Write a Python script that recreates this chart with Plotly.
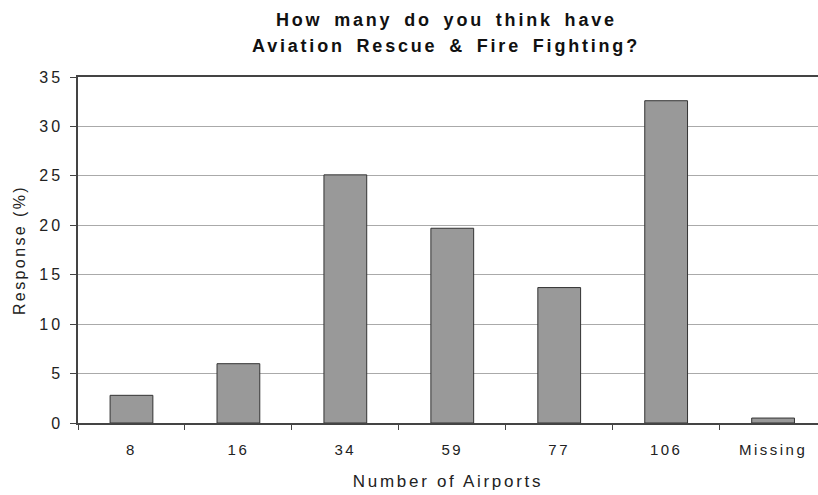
import plotly.graph_objects as go

categories = ["8", "16", "34", "59", "77", "106", "Missing"]
responses = [2.8, 6.0, 25.1, 19.7, 13.7, 32.6, 0.5]
y_ticks = [0, 5, 10, 15, 20, 25, 30, 35]

title_lines = ["How many do you think have", "Aviation Rescue & Fire Fighting?"]
x_title = "Number of Airports"
y_title = "Response (%)"

FONT = "Liberation Sans, Arial, sans-serif"


def spaced(s, ls=2.0, ws=0):
    return f'<span style="letter-spacing:{ls}px;word-spacing:{ws}px">{s}</span>'


fig = go.Figure(
    go.Bar(
        x=categories,
        y=responses,
        width=0.4,
        marker=dict(color="#999999", line=dict(color="#333333", width=1)),
    )
)

fig.update_layout(
    width=818,
    height=495,
    paper_bgcolor="white",
    plot_bgcolor="white",
    margin=dict(l=78, r=0, t=77, b=72),
    showlegend=False,
    font=dict(family=FONT, color="#222222"),
)

# two-line title as annotations (exact line positions)
for i, line in enumerate(title_lines):
    fig.add_annotation(
        text="<b>" + spaced(line, 2.8, 4) + "</b>",
        xref="paper", yref="paper",
        x=(446 - 78) / 740, y=(423 - (20 + 26 * i)) / 346,
        xanchor="center", yanchor="middle",
        showarrow=False,
        font=dict(family=FONT, size=18, color="#111111"),
    )

fig.update_xaxes(
    type="category",
    range=[-0.5, 6.42],
    automargin=False,
    showline=True,
    linecolor="#444444",
    linewidth=1.5,
    mirror=True,
    ticks="outside",
    tickson="boundaries",
    ticklen=5,
    tickcolor="#444444",
    ticklabelstandoff=12,
    showgrid=False,
    tickmode="array",
    tickvals=categories,
    ticktext=[spaced(c, 2.5) for c in categories],
    tickfont=dict(size=15, color="#222222"),
    title=dict(text=spaced(x_title, 2.7), font=dict(size=17, color="#222222"), standoff=18),
)

fig.update_yaxes(
    range=[0, 35],
    automargin=False,
    tickmode="array",
    tickvals=y_ticks,
    ticktext=[spaced(str(v), 3) for v in y_ticks],
    showline=True,
    linecolor="#444444",
    linewidth=1.5,
    ticks="outside",
    ticklen=6,
    tickcolor="#444444",
    ticklabelstandoff=4,
    showgrid=True,
    gridcolor="#aaaaaa",
    gridwidth=1,
    zeroline=False,
    tickfont=dict(size=16, color="#222222"),
    title=dict(text=spaced(y_title, 2.4), font=dict(size=16, color="#222222"), standoff=10),
)

fig.write_html(
    "out.html",
    config={"displayModeBar": False},
    post_script="document.body.style.margin='0';document.body.style.padding='0';",
)
